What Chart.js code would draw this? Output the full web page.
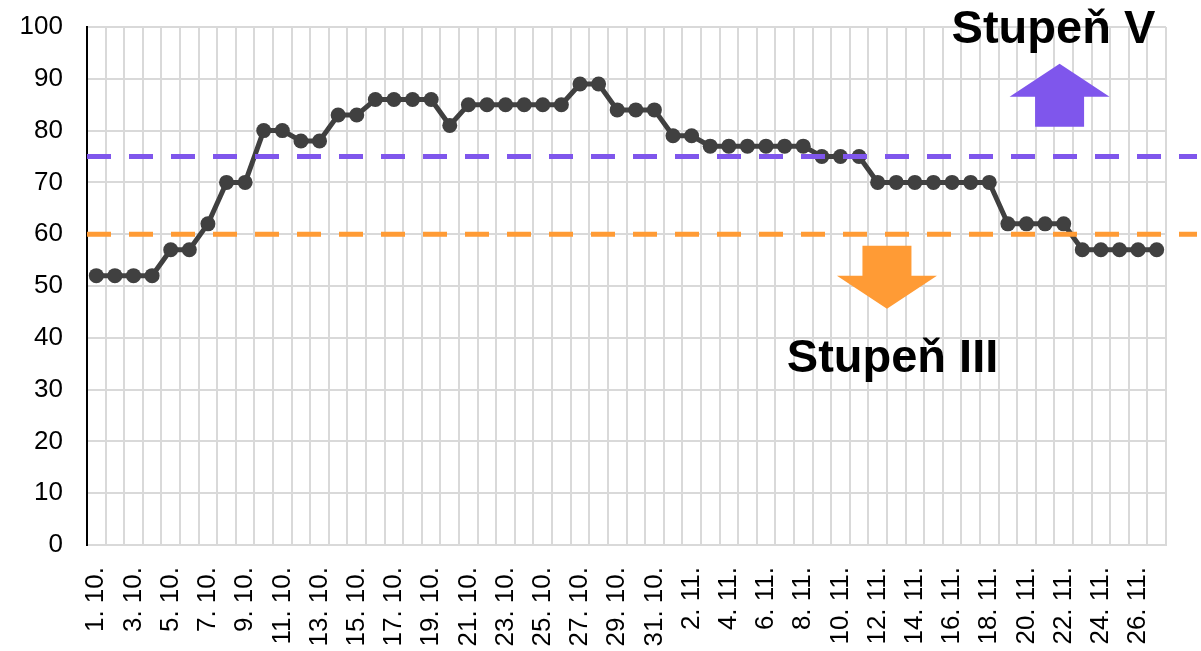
<!DOCTYPE html>
<html lang="cs">
<head>
  <meta charset="UTF-8" />
  <title>Stupeň</title>
  <script src="https://cdn.jsdelivr.net/npm/chart.js"></script>
  <style>
    html, body { margin: 0; padding: 0; background: #fff; }
    #wrap { width: 1201px; height: 651px; }
  </style>
</head>
<body>
  <div id="wrap"><canvas id="chart" width="1201" height="651"></canvas></div>

  <script>
    // dny 1. 10. – 27. 11.
    const days = [];
    for (let d = 1; d <= 31; d++) days.push(d + '. 10.');
    for (let d = 1; d <= 27; d++) days.push(d + '. 11.');

    const values = [
      52, 52, 52, 52, 57, 57, 62, 70, 70, 80,
      80, 78, 78, 83, 83, 86, 86, 86, 86, 81,
      85, 85, 85, 85, 85, 85, 89, 89, 84, 84,
      84, 79, 79, 77, 77, 77, 77, 77, 77, 75,
      75, 75, 70, 70, 70, 70, 70, 70, 70, 62,
      62, 62, 62, 57, 57, 57, 57, 57
    ];

    const yTicks = [0, 10, 20, 30, 40, 50, 60, 70, 80, 90, 100];

    // hranice stupňů
    const limitValues = [75, 60];
    const limitColors = ['#7f56ec', '#ff9b35'];

    // popisky: [text, index dne, hodnota]
    const labelTexts = ['Stupeň V', 'Stupeň III'];
    const labelPos = [[51.45, 96.9], [42.8, 33.4]];

    // šipky: [index dne, hodnota špičky, směr]
    const arrowPos = [[51.78, 92.9, 'up'], [42.5, 45.6, 'down']];

    const limitsPlugin = {
      id: 'limits',
      afterDatasetsDraw(chart) {
        const { ctx, chartArea, scales } = chart;
        ctx.save();
        ctx.lineWidth = 5;
        ctx.setLineDash([24, 18]);
        limitValues.forEach((v, i) => {
          const y = scales.y.getPixelForValue(v);
          ctx.strokeStyle = limitColors[i];
          ctx.beginPath();
          ctx.moveTo(chartArea.left, y);
          ctx.lineTo(chartArea.right + 31, y);
          ctx.stroke();
        });
        ctx.restore();
      },
      afterDraw(chart) {
        const { ctx, scales } = chart;
        ctx.save();
        // šipky
        arrowPos.forEach((a, i) => {
          const x = scales.x.getPixelForValue(a[0]);
          const y = scales.y.getPixelForValue(a[1]);
          const s = a[2] === 'up' ? 1 : -1;
          const headW = 50, headH = 33, shaftW = 24.5, total = 63;
          ctx.fillStyle = limitColors[i];
          ctx.beginPath();
          ctx.moveTo(x, y);
          ctx.lineTo(x + headW, y + s * headH);
          ctx.lineTo(x + shaftW, y + s * headH);
          ctx.lineTo(x + shaftW, y + s * total);
          ctx.lineTo(x - shaftW, y + s * total);
          ctx.lineTo(x - shaftW, y + s * headH);
          ctx.lineTo(x - headW, y + s * headH);
          ctx.closePath();
          ctx.fill();
        });
        // texty
        ctx.fillStyle = '#000';
        ctx.font = 'bold 47px "Liberation Sans", Arial, sans-serif';
        ctx.textAlign = 'center';
        ctx.textBaseline = 'alphabetic';
        labelTexts.forEach((t, i) => {
          ctx.fillText(t, scales.x.getPixelForValue(labelPos[i][0]), scales.y.getPixelForValue(labelPos[i][1]));
        });
        ctx.restore();
      }
    };

    new Chart(document.getElementById('chart'), {
      type: 'line',
      data: {
        labels: days,
        datasets: [{
          data: values,
          borderColor: '#404040',
          backgroundColor: '#404040',
          borderWidth: 5,
          pointRadius: 7.5,
          pointBackgroundColor: '#404040',
          pointBorderWidth: 0,
          tension: 0
        }]
      },
      plugins: [limitsPlugin],
      options: {
        responsive: false,
        animation: false,
        layout: { padding: { left: 0, right: 35, top: 27, bottom: 0 } },
        plugins: { legend: { display: false }, tooltip: { enabled: false } },
        scales: {
          x: {
            offset: true,
            grid: { offset: true, color: '#d9d9d9', lineWidth: 2, drawTicks: false },
            border: { color: '#d9d9d9', width: 2 },
            afterFit: (scale) => { scale.height = 106; scale.paddingLeft = 0; scale.paddingRight = 0; },
            ticks: {
              autoSkip: false,
              maxRotation: 90,
              minRotation: 90,
              padding: 22,
              color: '#000',
              font: { family: '"Liberation Sans", Arial, sans-serif', size: 26 },
              callback: (v, i) => (i % 2 === 0 ? days[i] : '')
            }
          },
          y: {
            min: yTicks[0],
            max: yTicks[yTicks.length - 1],
            grid: { color: '#d9d9d9', lineWidth: 2, drawTicks: false },
            border: { color: '#000', width: 2 },
            afterFit: (scale) => { scale.width = 87; scale.paddingTop = 0; scale.paddingBottom = 0; },
            afterBuildTicks: (scale) => { scale.ticks = yTicks.map(v => ({ value: v })); },
            ticks: {
              padding: 24,
              color: '#000',
              font: { family: '"Liberation Sans", Arial, sans-serif', size: 26 }
            }
          }
        }
      }
    });
  </script>
</body>
</html>
